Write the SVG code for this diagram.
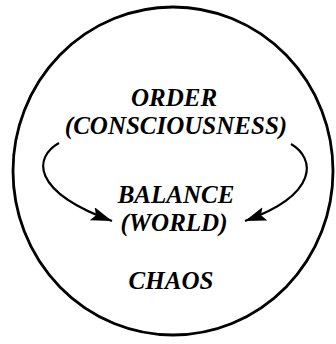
<svg xmlns="http://www.w3.org/2000/svg" width="336" height="344" viewBox="0 0 336 344">
<style>
.t{font-family:"Liberation Serif","Times New Roman",serif;font-style:italic;font-weight:bold;font-size:25px;fill:#000;text-anchor:middle}
.c{fill:none;stroke:#000;stroke-width:2.2}
</style>
<defs>
<marker id="ah" markerUnits="userSpaceOnUse" markerWidth="24" markerHeight="16" refX="21" refY="7" orient="auto">
<path d="M0,0 L21,7 L0,14 L4,7 z" fill="#000"/>
</marker>
</defs>
<rect width="336" height="344" fill="#fff"/>
<g id="boundary">
<ellipse cx="173" cy="171" rx="160" ry="164" fill="none" stroke="#000" stroke-width="2.8"/>
</g>
<g id="order">
<text class="t" x="174" y="106">ORDER</text>
<text class="t" x="176" y="134">(CONSCIOUSNESS)</text>
</g>
<g id="balance">
<text class="t" x="176" y="203">BALANCE</text>
<text class="t" x="174" y="231">(WORLD)</text>
</g>
<g id="chaos">
<text class="t" x="171" y="289">CHAOS</text>
</g>
<g id="connectors">
<path class="c" d="M59,143 C34,157 30,191 112,221" marker-end="url(#ah)"/>
<path class="c" d="M291,144 C315,158 320,194 245,221" marker-end="url(#ah)"/>
</g>
</svg>
